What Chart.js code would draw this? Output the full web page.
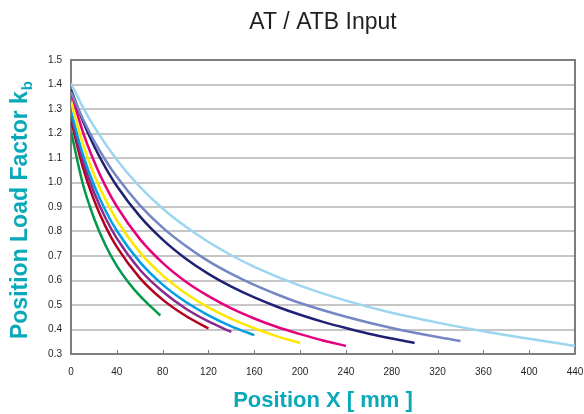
<!DOCTYPE html>
<html>
<head>
<meta charset="utf-8">
<script src="https://cdn.jsdelivr.net/npm/chart.js@4/dist/chart.umd.min.js"></script>
<style>
  body { margin: 0; background: #fff; }
  #wrap { width: 584px; height: 414px; }
</style>
</head>
<body>
<div id="wrap"><canvas id="kbChart" width="584" height="414"></canvas></div>
<script>
// values (x in mm, kb)
const greenX   = [0, 10, 20, 30, 40, 50, 60, 70, 78];
const greenY   = [1.21, 1.0, 0.855, 0.745, 0.66, 0.593, 0.538, 0.492, 0.457];
const redX     = [0, 10, 20, 30, 40, 60, 80, 100, 120];
const redY     = [1.255, 1.068, 0.929, 0.822, 0.737, 0.611, 0.522, 0.456, 0.404];
const purpleX  = [0, 10, 20, 30, 40, 60, 80, 100, 120, 140];
const purpleY  = [1.27, 1.094, 0.96, 0.856, 0.772, 0.645, 0.555, 0.486, 0.433, 0.39];
const cyanX    = [0, 10, 20, 30, 40, 60, 80, 100, 120, 140, 160];
const cyanY    = [1.29, 1.12, 0.99, 0.887, 0.803, 0.676, 0.583, 0.513, 0.458, 0.413, 0.377];
const yellowX  = [0, 10, 20, 30, 40, 60, 80, 100, 120, 140, 160, 180, 200];
const yellowY  = [1.33, 1.164, 1.034, 0.931, 0.846, 0.716, 0.621, 0.548, 0.49, 0.443, 0.405, 0.372, 0.345];
const magentaX = [0, 10, 20, 30, 40, 60, 80, 100, 120, 140, 160, 180, 200, 220, 240];
const magentaY = [1.37, 1.212, 1.088, 0.986, 0.902, 0.77, 0.672, 0.596, 0.536, 0.486, 0.445, 0.41, 0.381, 0.355, 0.333];
const navyX    = [0, 10, 20, 30, 40, 60, 80, 100, 120, 140, 160, 180, 200, 220, 240, 260, 280, 300];
const navyY    = [1.38, 1.255, 1.15, 1.062, 0.986, 0.863, 0.767, 0.69, 0.627, 0.575, 0.531, 0.493, 0.46, 0.431, 0.406, 0.383, 0.363, 0.345];
const slateX   = [0, 10, 20, 30, 40, 60, 80, 100, 120, 140, 160, 180, 200, 240, 280, 320, 340];
const slateY   = [1.37, 1.263, 1.171, 1.092, 1.023, 0.908, 0.816, 0.742, 0.679, 0.627, 0.582, 0.543, 0.508, 0.452, 0.406, 0.369, 0.353];
const skyX     = [0, 10, 20, 40, 60, 80, 100, 120, 140, 160, 200, 240, 280, 320, 360, 400, 440];
const skyY     = [1.405, 1.311, 1.229, 1.093, 0.983, 0.894, 0.82, 0.757, 0.703, 0.656, 0.579, 0.518, 0.468, 0.428, 0.393, 0.362, 0.333];

const xTicks = [0, 40, 80, 120, 160, 200, 240, 280, 320, 360, 400, 440];
const yTicks = [0.3, 0.4, 0.5, 0.6, 0.7, 0.8, 0.9, 1.0, 1.1, 1.2, 1.3, 1.4, 1.5];

const teal = '#0aa9b9';
const fontFam = '"Liberation Sans", Arial, Helvetica, sans-serif';

function pts(xs, ys) {
    return xs.map((x, i) => ({ x: x, y: ys[i] }));
}

function line(xs, ys, color) {
    return {
        data: pts(xs, ys),
        borderColor: color,
        borderWidth: 2.5,
        pointRadius: 0,
        fill: false,
        cubicInterpolationMode: 'monotone'
    };
}

// frame, inner x tick marks and the y axis title with subscript
const extras = {
    id: 'extras',
    beforeDatasetsDraw(chart) {
        const { ctx, chartArea: a, scales } = chart;
        ctx.save();
        ctx.strokeStyle = '#7d7d7d';
        ctx.lineWidth = 1;
        xTicks.forEach(v => {
            const px = Math.round(scales.x.getPixelForValue(v)) + 0.5;
            ctx.beginPath();
            ctx.moveTo(px, a.bottom);
            ctx.lineTo(px, a.bottom - 4);
            ctx.stroke();
        });
        ctx.lineWidth = 2;
        ctx.strokeRect(a.left, a.top, a.right - a.left, a.bottom - a.top);
        ctx.restore();
    },
    afterDraw(chart) {
        const { ctx } = chart;
        const main = 'Position Load Factor k';
        const sub = 'b';
        ctx.save();
        ctx.fillStyle = teal;
        ctx.font = 'bold 23px ' + fontFam;
        const w1 = ctx.measureText(main).width;
        ctx.font = 'bold 15px ' + fontFam;
        const w2 = ctx.measureText(sub).width;
        const total = w1 + 1 + w2;
        ctx.translate(21, 210);
        ctx.rotate(-Math.PI / 2);
        ctx.textBaseline = 'middle';
        ctx.textAlign = 'left';
        ctx.font = 'bold 23px ' + fontFam;
        ctx.fillText(main, -total / 2, 0);
        ctx.font = 'bold 15px ' + fontFam;
        ctx.fillText(sub, -total / 2 + w1 + 1, 7);
        ctx.restore();
    }
};

new Chart(document.getElementById('kbChart').getContext('2d'), {
    type: 'line',
    data: {
        datasets: [
            line(skyX, skyY, '#9dd5f0'),
            line(slateX, slateY, '#7587c3'),
            line(navyX, navyY, '#1f2273'),
            line(magentaX, magentaY, '#e5007d'),
            line(yellowX, yellowY, '#ffe800'),
            line(cyanX, cyanY, '#00a0e3'),
            line(purpleX, purpleY, '#8a2a8c'),
            line(redX, redY, '#b3001e'),
            line(greenX, greenY, '#00994a')
        ]
    },
    options: {
        responsive: false,
        animation: false,
        layout: { padding: { left: 0, right: 0, top: 0, bottom: 0 } },
        plugins: {
            legend: { display: false },
            tooltip: { enabled: false },
            title: {
                display: true,
                text: 'AT / ATB Input',
                fullSize: false,
                color: '#231f20',
                font: { family: fontFam, size: 23, weight: 'normal' },
                padding: { top: 9, bottom: 23.4 }
            }
        },
        scales: {
            x: {
                type: 'linear',
                min: 0,
                max: 440,
                afterFit: s => { s.height = 60; s.paddingRight = 9; s.paddingLeft = 0; },
                afterBuildTicks: s => { s.ticks = xTicks.map(v => ({ value: v })); },
                grid: { display: false },
                border: { display: false },
                ticks: {
                    padding: 4,
                    color: '#231f20',
                    font: { family: fontFam, size: 10 },
                    maxRotation: 0,
                    autoSkip: false
                },
                title: {
                    display: true,
                    text: 'Position X [ mm ]',
                    color: teal,
                    font: { family: fontFam, size: 22, weight: 'bold' },
                    padding: { top: 0, bottom: 0 }
                }
            },
            y: {
                min: 0.3,
                max: 1.5,
                afterFit: s => { s.width = 71; },
                afterBuildTicks: s => { s.ticks = yTicks.map(v => ({ value: v })); },
                grid: { color: '#c6c6c6', lineWidth: 2, drawTicks: false },
                border: { display: false },
                ticks: {
                    padding: 9,
                    color: '#231f20',
                    font: { family: fontFam, size: 10 },
                    callback: v => v.toFixed(1)
                }
            }
        }
    },
    plugins: [extras]
});
</script>
</body>
</html>
